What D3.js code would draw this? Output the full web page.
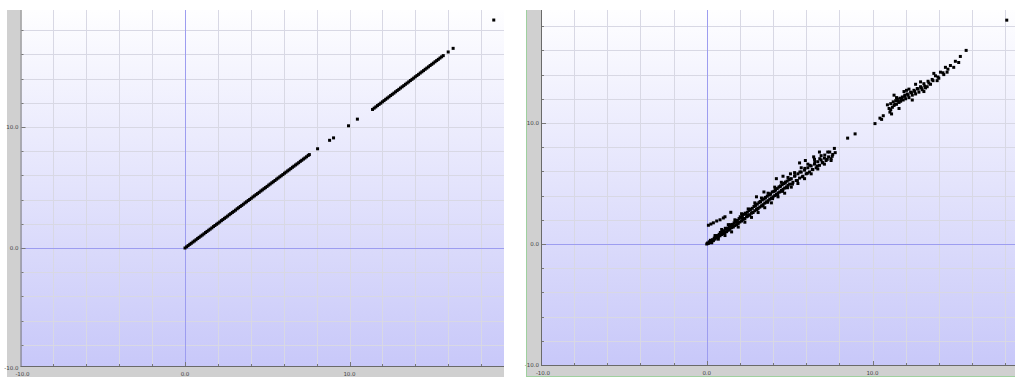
<!DOCTYPE html>
<html>
<head>
<meta charset="utf-8">
<script src="https://cdnjs.cloudflare.com/ajax/libs/d3/7.8.5/d3.min.js"></script>
<style>
  html, body { margin: 0; padding: 0; background: #ffffff; }
  svg { display: block; }
</style>
</head>
<body>
<svg id="chart" width="1015" height="377"></svg>
<script>
// Grid and tick values (every 2 units) and labelled ticks
const gridValues = [-10, -8, -6, -4, -2, 0, 2, 4, 6, 8, 10, 12, 14, 16, 18];
const labelValues = [-10, 0, 10];
const labelText = ["-10.0", "0.0", "10.0"];

// Left plot: reference values vs. themselves (points lie on the diagonal)
const leftX = [
  0.00, 0.10, 0.19, 0.29, 0.38, 0.48, 0.57, 0.67, 0.77, 0.86, 0.96, 1.05, 1.15, 1.25, 1.34, 1.44,
  1.53, 1.63, 1.73, 1.82, 1.92, 2.01, 2.11, 2.21, 2.30, 2.40, 2.49, 2.59, 2.69, 2.78, 2.88, 2.97,
  3.07, 3.17, 3.26, 3.36, 3.45, 3.55, 3.65, 3.74, 3.84, 3.93, 4.03, 4.13, 4.22, 4.32, 4.41, 4.51,
  4.61, 4.70, 4.80, 4.89, 4.99, 5.09, 5.18, 5.28, 5.37, 5.47, 5.57, 5.66, 5.76, 5.85, 5.95, 6.05,
  6.14, 6.24, 6.33, 6.43, 6.53, 6.62, 6.72, 6.81, 6.91, 7.01, 7.10, 7.20, 7.29, 7.39, 7.49, 7.56,
  8.06, 8.79, 9.03, 9.94, 10.48,
  11.40, 11.50, 11.60, 11.70, 11.80, 11.90, 12.00, 12.10, 12.20, 12.30, 12.40, 12.50, 12.60, 12.70,
  12.80, 12.90, 13.00, 13.10, 13.20, 13.30, 13.40, 13.50, 13.60, 13.70, 13.80, 13.90, 14.00, 14.10,
  14.20, 14.30, 14.40, 14.50, 14.60, 14.70, 14.80, 14.90, 15.00, 15.10, 15.20, 15.30, 15.40, 15.50,
  15.60, 15.70, 16.00, 16.30, 18.77
];
const leftY = [
  0.00, 0.10, 0.20, 0.30, 0.39, 0.49, 0.58, 0.68, 0.79, 0.88, 0.98, 1.07, 1.17, 1.28, 1.37, 1.47,
  1.56, 1.66, 1.77, 1.86, 1.96, 2.05, 2.15, 2.26, 2.35, 2.45, 2.54, 2.64, 2.75, 2.84, 2.94, 3.03,
  3.13, 3.24, 3.33, 3.43, 3.52, 3.62, 3.73, 3.82, 3.92, 4.01, 4.11, 4.22, 4.31, 4.41, 4.50, 4.60,
  4.71, 4.80, 4.90, 4.99, 5.09, 5.20, 5.29, 5.39, 5.48, 5.58, 5.69, 5.78, 5.88, 5.97, 6.07, 6.18,
  6.27, 6.37, 6.46, 6.56, 6.67, 6.76, 6.86, 6.95, 7.05, 7.16, 7.25, 7.35, 7.44, 7.54, 7.65, 7.72,
  8.20, 8.90, 9.10, 10.10, 10.65,
  11.45, 11.56, 11.66, 11.77, 11.87, 11.97, 12.08, 12.18, 12.29, 12.39, 12.49, 12.60, 12.70, 12.80,
  12.91, 13.01, 13.11, 13.22, 13.32, 13.42, 13.53, 13.63, 13.73, 13.84, 13.94, 14.04, 14.15, 14.25,
  14.35, 14.46, 14.56, 14.66, 14.77, 14.87, 14.97, 15.08, 15.18, 15.28, 15.39, 15.49, 15.59, 15.70,
  15.80, 15.90, 16.20, 16.50, 18.84
];

// Right plot: reference values vs. predicted values (scattered round the diagonal)
const rightX = [
  0.00, 0.05, 0.10, 0.15, 0.20, 0.25, 0.30, 0.35, 0.40, 0.45, 0.50, 0.55, 0.60, 0.65, 0.70, 0.75,
  0.80, 0.85, 0.90, 0.95, 1.00, 1.05, 1.10, 1.15, 1.20, 1.25, 1.30, 1.35, 1.40, 1.45, 1.50, 1.55,
  1.60, 1.65, 1.70, 1.75, 1.80, 1.85, 1.90, 1.95, 2.00, 2.05, 2.10, 2.15, 2.20, 2.25, 2.30, 2.35,
  2.40, 2.45, 2.50, 2.55, 2.60, 2.65, 2.70, 2.75, 2.80, 2.85, 2.90, 2.95, 3.00, 3.05, 3.10, 3.15,
  3.20, 3.25, 3.30, 3.35, 3.40, 3.45, 3.50, 3.55, 3.60, 3.65, 3.70, 3.75, 3.80, 3.85, 3.90, 3.95,
  4.00, 4.05, 4.10, 4.15, 4.20, 4.25, 4.30, 4.35, 4.40, 4.45, 4.50, 4.55, 4.60, 4.65, 4.70, 4.75,
  4.80, 4.85, 4.90, 4.95, 5.00, 5.10, 5.20, 5.30, 5.40, 5.50, 5.60, 5.70, 5.80, 5.90, 6.00, 6.10,
  6.20, 6.30, 6.40, 6.50, 6.60, 6.70, 6.80, 6.90, 7.00, 7.10, 7.20, 7.35, 7.50, 7.60, 7.75,
  0.30, 0.50, 0.70, 0.90, 1.10, 1.30, 1.50, 1.70, 1.90, 2.10, 2.30, 2.50, 2.70, 2.90, 3.10, 3.30,
  3.50, 3.70, 3.90, 4.10, 4.30, 4.50, 4.70, 4.90, 5.10, 5.30, 5.50, 5.70, 5.90, 6.10, 6.30, 6.50,
  6.70, 6.90, 7.10, 7.30, 7.50, 7.70, 4.20, 5.60, 6.80, 3.00, 2.20, 5.05, 5.95, 6.45, 4.60, 3.45,
  0.22, 0.38, 0.52, 0.68, 0.82, 0.97, 1.12, 1.27, 1.42, 1.57, 1.72, 1.87, 2.02, 2.17, 2.32, 2.47,
  2.62, 2.77, 2.92, 3.07, 3.22, 3.37, 3.52, 3.67, 3.82, 3.97, 4.12, 4.27, 4.42, 4.57, 4.72, 4.87,
  5.02, 5.17, 5.32, 5.47, 5.62, 5.77, 5.92, 6.07, 6.22, 6.37, 6.52, 6.67, 6.82, 6.97, 7.12, 7.27,
  7.42, 7.57,
  0.10, 0.25, 0.40, 0.60, 0.80, 1.00, 1.10, 1.45,
  8.50, 8.95, 10.15, 10.45,
  10.55, 10.65, 11.00, 11.05, 11.10, 11.20, 11.25, 11.30, 11.40, 11.45, 11.50, 11.60, 11.65, 11.70,
  11.80, 11.85, 11.95, 12.00, 12.10, 12.20, 12.30, 12.40, 12.50, 12.60, 12.70, 12.80, 12.90, 13.00,
  13.10, 13.20, 13.35, 13.50, 13.60, 13.80, 13.90, 14.10, 14.30, 14.40, 14.70, 15.00, 15.30, 15.65,
  11.30, 11.60, 12.20, 12.40, 12.90, 13.10, 13.70, 14.00, 14.50, 14.90, 15.20, 11.90, 12.60, 13.30,
  10.90, 11.15,
  11.35, 11.55, 11.75, 11.95, 12.15, 12.35, 12.55, 12.75, 12.95, 13.15, 13.40, 13.65, 13.95, 14.25,
  14.55, 11.10, 11.45, 12.05,
  18.10
];
const rightY = [
  0.00, 0.08, 0.05, 0.18, 0.12, 0.30, 0.22, 0.35, 0.28, 0.48, 0.40, 0.55, 0.50, 0.70, 0.58, 0.80,
  0.68, 0.90, 0.78, 1.02, 0.85, 1.10, 0.95, 1.25, 1.02, 1.30, 1.15, 1.45, 1.22, 1.50, 1.35, 1.62,
  1.40, 1.75, 1.52, 1.85, 1.60, 1.95, 1.70, 2.10, 1.82, 2.20, 1.90, 2.30, 2.05, 2.45, 2.10, 2.50,
  2.25, 2.62, 2.35, 2.75, 2.42, 2.88, 2.55, 2.95, 2.62, 3.10, 2.75, 3.20, 2.85, 3.30, 2.95, 3.42,
  3.05, 3.50, 3.15, 3.65, 3.25, 3.72, 3.38, 3.85, 3.48, 3.95, 3.58, 4.05, 3.70, 4.15, 3.80, 4.30,
  3.90, 4.35, 4.00, 4.50, 4.10, 4.58, 4.22, 4.70, 4.30, 4.80, 4.42, 4.90, 4.52, 5.00, 4.62, 5.12,
  4.72, 5.20, 4.85, 5.30, 4.95, 5.40, 5.10, 5.60, 5.25, 5.80, 5.45, 5.95, 5.60, 6.10, 5.80, 6.30,
  5.95, 6.45, 6.15, 6.60, 6.30, 6.80, 6.50, 6.95, 6.70, 7.10, 6.90, 7.20, 7.05, 7.40, 7.55,
  0.10, 0.70, 0.40, 1.20, 0.70, 1.60, 1.00, 2.00, 1.40, 2.50, 1.80, 2.90, 2.20, 3.40, 2.60, 3.80,
  3.00, 4.20, 3.40, 4.70, 3.90, 5.10, 4.20, 5.50, 4.70, 5.90, 5.00, 6.30, 5.40, 6.60, 5.80, 7.00,
  6.20, 7.30, 6.60, 7.60, 6.90, 7.90, 5.40, 6.70, 7.60, 3.90, 2.10, 5.80, 6.90, 7.20, 5.60, 4.30,
  0.30, 0.32, 0.62, 0.60, 0.95, 0.90, 1.30, 1.15, 1.60, 1.45, 1.90, 1.75, 2.25, 2.05, 2.55, 2.30,
  2.85, 2.60, 3.15, 2.90, 3.50, 3.15, 3.80, 3.45, 4.10, 3.75, 4.40, 4.05, 4.75, 4.35, 5.05, 4.65,
  5.35, 4.95, 5.65, 5.25, 5.95, 5.55, 6.25, 5.85, 6.50, 6.15, 6.80, 6.45, 7.05, 6.75, 7.35, 7.00,
  7.60, 7.25,
  1.55, 1.65, 1.75, 1.90, 2.00, 2.15, 2.25, 2.62,
  8.75, 9.10, 9.95, 10.40,
  10.30, 10.60, 11.20, 10.90, 11.60, 11.30, 11.75, 11.45, 11.85, 11.55, 11.95, 11.70, 12.05, 11.80,
  12.15, 11.90, 12.30, 12.00, 12.40, 12.10, 12.55, 12.30, 12.70, 12.40, 12.85, 12.55, 13.00, 12.75,
  13.25, 12.90, 13.45, 13.20, 13.60, 13.90, 13.50, 14.20, 14.00, 14.60, 14.75, 15.10, 15.50, 16.00,
  12.30, 11.20, 12.80, 11.90, 13.40, 12.60, 14.10, 13.70, 14.20, 14.60, 15.00, 12.60, 13.20, 13.00,
  11.50, 10.75,
  11.55, 11.80, 11.95, 12.20, 12.30, 12.50, 12.60, 12.80, 12.90, 13.05, 13.30, 13.50, 13.80, 14.15,
  14.45, 11.10, 12.10, 12.70,
  18.50
];

const svg = d3.select("#chart");
const defs = svg.append("defs");

const grad = defs.append("linearGradient")
  .attr("id", "plotBg").attr("x1", 0).attr("y1", 0).attr("x2", 0).attr("y2", 1);
grad.append("stop").attr("offset", "0%").attr("stop-color", "#fefeff");
grad.append("stop").attr("offset", "100%").attr("stop-color", "#c8c8f9");

function drawPanel(cfg, xs, ys, id) {
  const g = svg.append("g");
  const x = d3.scaleLinear().domain([-10, 10]).range([cfg.xMin, cfg.xMax]);
  const y = d3.scaleLinear().domain([-10, 10]).range([cfg.yMin, cfg.yMax]);
  const pl = x(-10), pr = cfg.plotRight, pt = cfg.plotTop, pb = cfg.plotBottom;

  // grey axis bands
  g.append("rect").attr("x", cfg.left).attr("y", pt)
    .attr("width", pl - cfg.left).attr("height", cfg.bottom - pt).attr("fill", "#d0d0d0");
  g.append("rect").attr("x", cfg.left).attr("y", pb)
    .attr("width", pr - cfg.left).attr("height", cfg.bottom - pb).attr("fill", "#d0d0d0");

  // plot background
  g.append("rect").attr("x", pl).attr("y", pt)
    .attr("width", pr - pl).attr("height", pb - pt).attr("fill", "url(#plotBg)");

  defs.append("clipPath").attr("id", id)
    .append("rect").attr("x", pl).attr("y", pt).attr("width", pr - pl).attr("height", pb - pt);
  const inner = g.append("g").attr("clip-path", `url(#${id})`);

  // grid
  inner.append("g").selectAll("line").data(gridValues.filter(v => v !== 0 && v !== -10)).join("line")
    .attr("x1", d => Math.round(x(d)) + 0.5).attr("x2", d => Math.round(x(d)) + 0.5)
    .attr("y1", pt).attr("y2", pb)
    .attr("stroke", "#d8d8e4").attr("stroke-width", 1);
  inner.append("g").selectAll("line").data(gridValues.filter(v => v !== 0)).join("line")
    .attr("y1", d => Math.round(y(d)) + 0.5).attr("y2", d => Math.round(y(d)) + 0.5)
    .attr("x1", pl).attr("x2", pr)
    .attr("stroke", "#d8d8e4").attr("stroke-width", 1);

  // zero lines
  inner.append("line")
    .attr("x1", Math.round(x(0)) + 0.5).attr("x2", Math.round(x(0)) + 0.5)
    .attr("y1", pt).attr("y2", pb).attr("stroke", "#9d9df0");
  inner.append("line")
    .attr("y1", Math.round(y(0)) + 0.5).attr("y2", Math.round(y(0)) + 0.5)
    .attr("x1", pl).attr("x2", pr).attr("stroke", "#9d9df0");

  // points
  inner.append("g").selectAll("rect").data(xs.map((v, i) => [v, ys[i]])).join("rect")
    .attr("x", d => x(d[0]) - 1.5).attr("y", d => y(d[1]) - 1.5)
    .attr("width", 3).attr("height", 3).attr("fill", "#000");

  // axes lines
  g.append("line").attr("x1", pl + 0.5).attr("x2", pl + 0.5).attr("y1", pt).attr("y2", pb + 0.5)
    .attr("stroke", "#6a6a6a");
  g.append("line").attr("x1", pl).attr("x2", pr).attr("y1", pb + 0.5).attr("y2", pb + 0.5)
    .attr("stroke", "#6a6a6a");

  // tick marks pointing into the plot
  g.append("g").selectAll("line").data(gridValues.filter(v => y(v) > pt && y(v) < pb)).join("line")
    .attr("x1", pl + 1).attr("x2", d => pl + (labelValues.includes(d) ? 5 : 3))
    .attr("y1", d => Math.round(y(d)) + 0.5).attr("y2", d => Math.round(y(d)) + 0.5)
    .attr("stroke", "#777");
  g.append("g").selectAll("line").data(gridValues.filter(v => x(v) > pl && x(v) < pr)).join("line")
    .attr("y1", pb).attr("y2", d => pb - (labelValues.includes(d) ? 4 : 2))
    .attr("x1", d => Math.round(x(d)) + 0.5).attr("x2", d => Math.round(x(d)) + 0.5)
    .attr("stroke", "#777");

  // labels
  g.append("g").selectAll("text").data(labelValues).join("text")
    .attr("x", pl - 2).attr("y", d => Math.min(y(d) + 2, pb + 3.5))
    .attr("text-anchor", "end")
    .attr("font-family", "DejaVu Sans").attr("font-size", 5.5).attr("fill", "#444")
    .text((d, i) => labelText[i]);
  g.append("g").selectAll("text").data(labelValues).join("text")
    .attr("x", d => x(d) + (d === -10 ? 2 : 0)).attr("y", cfg.bottom - 1)
    .attr("text-anchor", "middle")
    .attr("font-family", "DejaVu Sans").attr("font-size", 5.5).attr("fill", "#444")
    .text((d, i) => labelText[i]);

  if (cfg.border) {
    g.append("line").attr("x1", cfg.left + 0.5).attr("x2", cfg.left + 0.5)
      .attr("y1", pt).attr("y2", cfg.bottom + 0.5).attr("stroke", "#9fd09f");
    g.append("line").attr("x1", cfg.left).attr("x2", 1015)
      .attr("y1", cfg.bottom + 0.5).attr("y2", cfg.bottom + 0.5).attr("stroke", "#9fd09f");
  }
}

drawPanel({ left: 7, xMin: 20.5, xMax: 349.5, yMin: 369, yMax: 127,
            plotRight: 504, plotTop: 10, plotBottom: 366, bottom: 377, border: false },
          leftX, leftY, "clipLeft");
drawPanel({ left: 526, xMin: 541, xMax: 872.5, yMin: 365, yMax: 123,
            plotRight: 1025, plotTop: 10, plotBottom: 365, bottom: 376, border: true },
          rightX, rightY, "clipRight");
</script>
</body>
</html>
